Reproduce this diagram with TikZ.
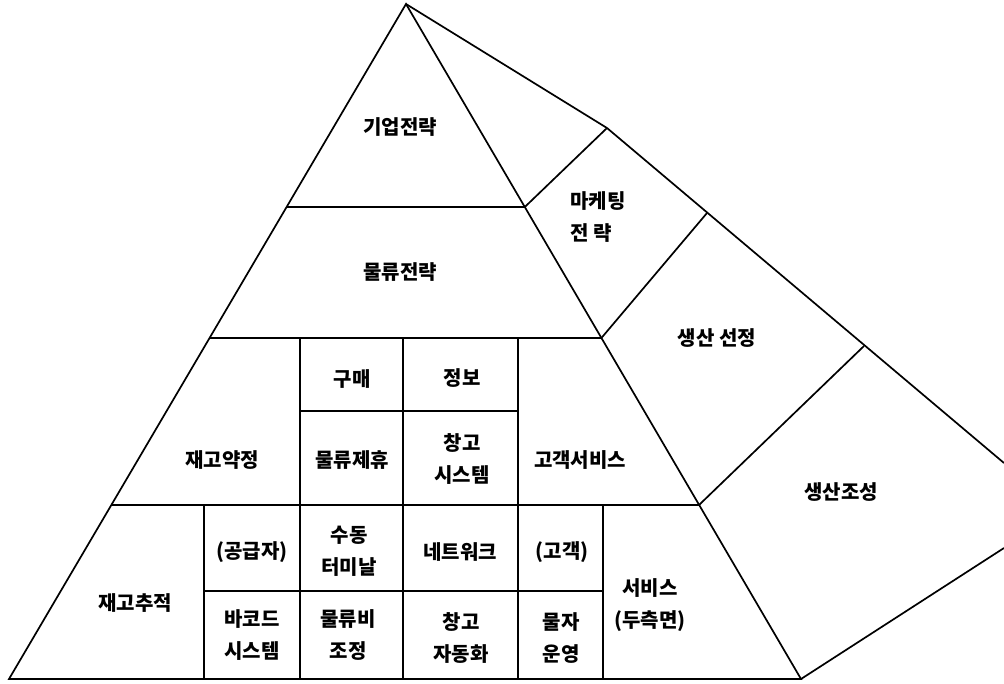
\documentclass[tikz,border=0pt]{standalone}
\usepackage{fontspec}
\newfontfamily\kfont{Noto Sans CJK KR}
\usepackage{tikz}

\begin{document}
\begin{tikzpicture}[x=1pt, y=-1pt,
        edge/.style={line width=1.7pt, line join=miter},
        txt/.style={font=\kfont\bfseries\fontsize{20}{32}\selectfont, align=center, inner sep=0pt}
    ]
        \useasboundingbox (0,0) rectangle (1004,683);

        % outline points
        \coordinate (apex) at (406,4);
        \coordinate (bl) at (9,679);
        \coordinate (br) at (801,679);
        \coordinate (mk) at (607,128);
        \coordinate (wtop) at (1004,463);
        \coordinate (wbot) at (1004,548);

        % tier ends on the triangle sides
        \coordinate (l1) at (286.6,207);  \coordinate (r1) at (524.8,207);
        \coordinate (l2) at (209.6,338);  \coordinate (r2) at (601.4,338);
        \coordinate (l3) at (111.4,505);  \coordinate (r3) at (699,505);

        % wing dividers meet the upper wing side
        \coordinate (w2) at (707,213);
        \coordinate (w3) at (864,346);

        % grid columns
        \coordinate (c1t) at (300,338);  \coordinate (c1b) at (300,679);
        \coordinate (c2t) at (403,338);  \coordinate (c2b) at (403,679);
        \coordinate (c3t) at (518,338);  \coordinate (c3b) at (518,679);
        \coordinate (c0t) at (204,505);  \coordinate (c0b) at (204,679);
        \coordinate (c4t) at (603,505);  \coordinate (c4b) at (603,679);
        \coordinate (m1l) at (300,411);  \coordinate (m1r) at (518,411);
        \coordinate (m2l) at (204,591);  \coordinate (m2r) at (603,591);

        % Shapes
        \draw[edge] (apex) -- (bl) -- (br) -- cycle;
        \draw[edge] (apex) -- (mk) -- (wtop);
        \draw[edge] (br) -- (wbot);
        \draw[edge] (l1) -- (r1) -- (mk);
        \draw[edge] (l2) -- (r2) -- (w2);
        \draw[edge] (l3) -- (r3) -- (w3);
        \draw[edge] (c1t) -- (c1b);
        \draw[edge] (c2t) -- (c2b);
        \draw[edge] (c3t) -- (c3b);
        \draw[edge] (c0t) -- (c0b);
        \draw[edge] (c4t) -- (c4b);
        \draw[edge] (m1l) -- (m1r);
        \draw[edge] (m2l) -- (m2r);

        % Labels
        \node[txt] (corp) at (400,127) {기업전략};
        \node[txt] (logi) at (400,272) {물류전략};
        \node[txt, align=left, anchor=west] (mkt) at (570,217) {마케팅\\전 략};
        \node[txt] (prodsel) at (717,338) {생산 선정};
        \node[txt] (prodmix) at (841,492) {생산조성};

        \node[txt] (buy) at (352,379) {구매};
        \node[txt] (info) at (462,378) {정보};
        \node[txt] (invdec) at (222,460) {재고약정};
        \node[txt] (alli) at (352,460) {물류제휴};
        \node[txt] (whsys) at (462,459) {창고\\시스템};
        \node[txt] (cust) at (580,460) {고객서비스};

        \node[txt] (invtr) at (135,603) {재고추적};
        \node[txt] (supp) at (252,552) {(공급자)};
        \node[txt] (term) at (349,551) {수동\\터미날};
        \node[txt] (net) at (460,552) {네트워크};
        \node[txt] (cli) at (562,552) {(고객)};
        \node[txt] (serv) at (650,605) {서비스\\(두측면)};
        \node[txt] (bar) at (252,635) {바코드\\시스템};
        \node[txt] (cost) at (348,635) {물류비\\조정};
        \node[txt] (auto) at (461,638) {창고\\자동화};
        \node[txt] (mat) at (561,638) {물자\\운영};

    \end{tikzpicture}
\end{document}
